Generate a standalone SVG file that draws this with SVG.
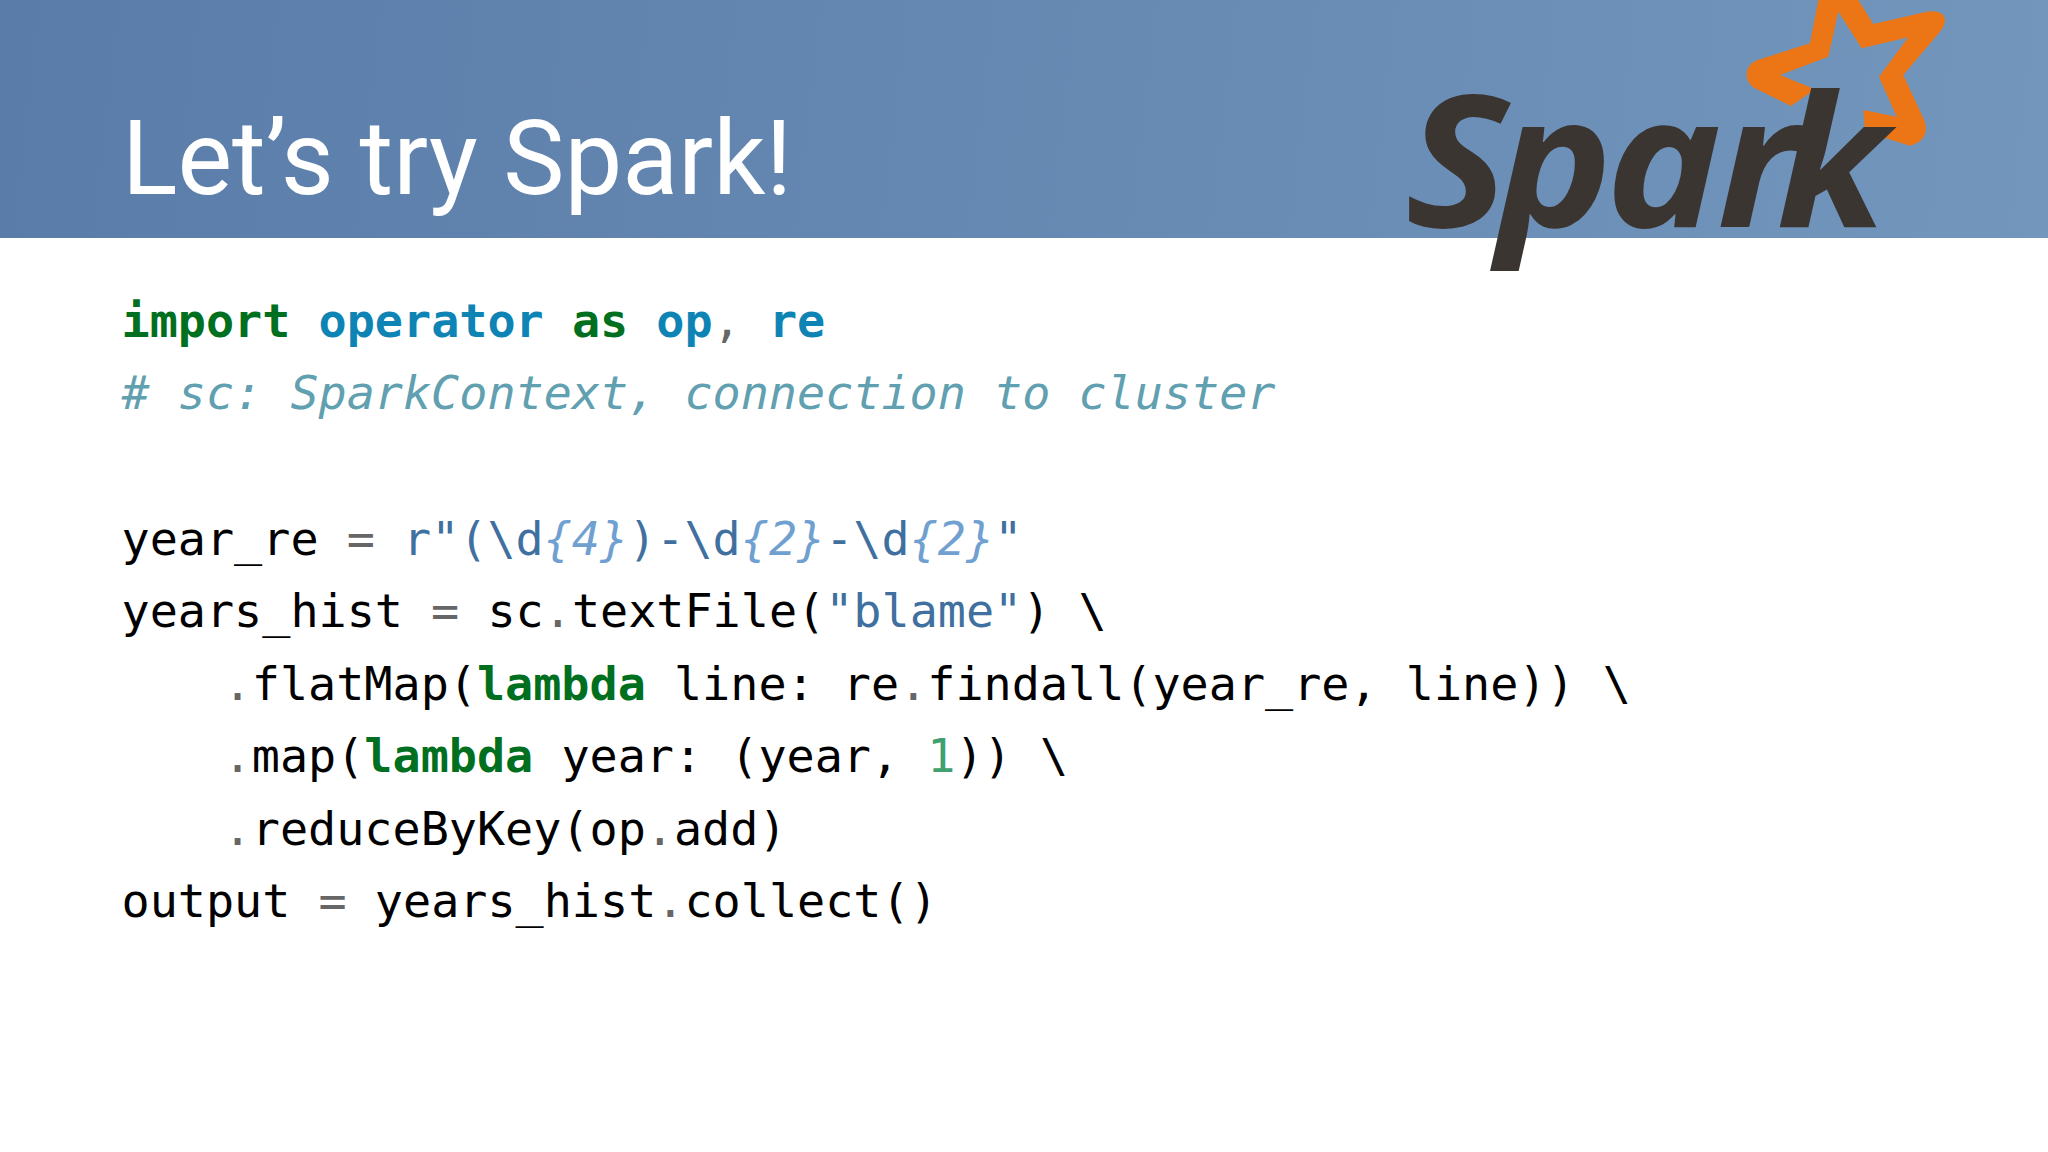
<svg xmlns="http://www.w3.org/2000/svg" width="2048" height="1152" viewBox="0 0 2048 1152">
<style>
.title{font-family:"Roboto","Liberation Sans",sans-serif;font-weight:400;font-size:103px;fill:#fff}
.code{font-family:"DejaVu Sans Mono","Liberation Mono",monospace;font-size:46.76px;fill:#000;white-space:pre}
.k{fill:#007020;font-weight:700}.n{fill:#0e84b5;font-weight:700}.c{fill:#60a0b0;font-style:italic}
.s{fill:#4070a0}.i{fill:#70a0d0;font-style:italic}.o{fill:#666}.d{fill:#40a070}
.logo{font-family:"Open Sans","Noto Sans",sans-serif;font-style:italic;font-weight:700;font-size:184px;fill:#3b3532}
</style>
<defs><linearGradient id="hdr" x1="0" y1="0" x2="2048" y2="238" gradientUnits="userSpaceOnUse"><stop offset="0" stop-color="#5a7ca9"/><stop offset="1" stop-color="#7296bc"/></linearGradient></defs>
<rect width="2048" height="1152" fill="#fff"/>
<rect width="2048" height="238" fill="url(#hdr)"/>
<text class="title" x="122" y="194">Let’s try Spark!</text>
<g id="logo">
<path transform="translate(1730,0) scale(0.3333)" fill="#ec7616" d="M183 318L75 265Q50 250 50 225Q50 190 90 178L240 130L265 0L385 0L430 72L590 35Q645 28 645 65Q642 82 630 95L520 225L585 365Q600 420 540 437L405 395L400 330L500 350L447 230L535 112L395 145L325 35L295 170L150 225L255 268Z"/>
<text class="logo" transform="translate(1400,227) scale(1.06,1)" x="5 91 194 299 355" y="0">Spark</text>
</g>
<g id="code">
<text class="code" x="121.5" y="337" xml:space="preserve"><tspan class="k">import</tspan> <tspan class="n">operator</tspan> <tspan class="k">as</tspan> <tspan class="n">op</tspan><tspan class="o">,</tspan> <tspan class="n">re</tspan></text>
<text class="code c" x="121.5" y="409" xml:space="preserve"># sc: SparkContext, connection to cluster</text>
<text class="code" x="121.5" y="554.5" xml:space="preserve">year_re <tspan class="o">=</tspan> <tspan class="s">r"(\d</tspan><tspan class="i">{4}</tspan><tspan class="s">)-\d</tspan><tspan class="i">{2}</tspan><tspan class="s">-\d</tspan><tspan class="i">{2}</tspan><tspan class="s">"</tspan></text>
<text class="code" x="121.5" y="627" xml:space="preserve">years_hist <tspan class="o">=</tspan> sc<tspan class="o">.</tspan>textFile(<tspan class="s">"blame"</tspan>) \</text>
<text class="code" x="111" y="699.5" xml:space="preserve">    <tspan class="o">.</tspan>flatMap(<tspan class="k">lambda</tspan> line: re<tspan class="o">.</tspan>findall(year_re, line)) \</text>
<text class="code" x="111" y="772" xml:space="preserve">    <tspan class="o">.</tspan>map(<tspan class="k">lambda</tspan> year: (year, <tspan class="d">1</tspan>)) \</text>
<text class="code" x="111" y="844.5" xml:space="preserve">    <tspan class="o">.</tspan>reduceByKey(op<tspan class="o">.</tspan>add)</text>
<text class="code" x="121.5" y="917" xml:space="preserve">output <tspan class="o">=</tspan> years_hist<tspan class="o">.</tspan>collect()</text>
</g>
</svg>
